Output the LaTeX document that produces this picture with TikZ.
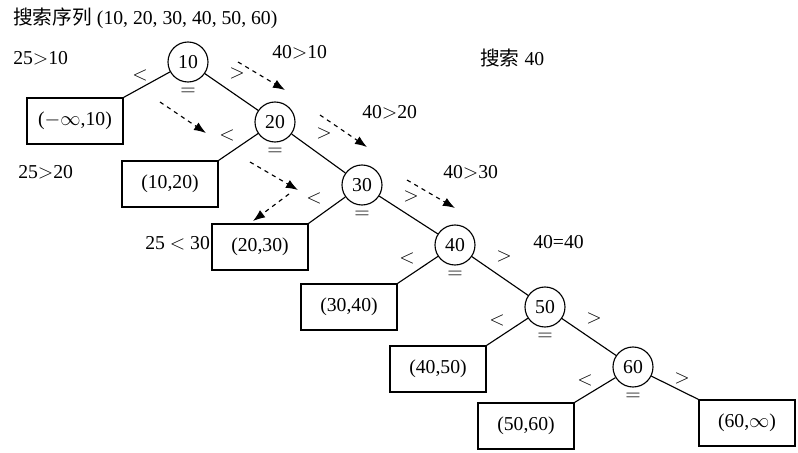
\documentclass[tikz,border=0pt]{standalone}
\usepackage{fontspec}
\setmainfont{Liberation Serif}
\newfontfamily\cjk{Noto Sans CJK SC}
\usetikzlibrary{arrows.meta,positioning}

\begin{document}
\begin{tikzpicture}[x=0.025cm, y=-0.025cm, font=\fontsize{14}{16}\selectfont,
    key/.style={circle, draw, thick, inner sep=0pt, minimum size=1cm},
    gap/.style={rectangle, draw, thick, minimum width=2.4cm, minimum height=1.15cm},
    edge/.style={thick},
    probe/.style={-{Latex[length=3mm]}, thick, dashed},
    note/.style={anchor=west, inner sep=0pt}]
    \useasboundingbox (0,0) rectangle (798,453);

    % search keys
    \node [key] (k10) at (188,62) {10};
    \node [key] (k20) at (275,122) {20};
    \node [key] (k30) at (362,185) {30};
    \node [key] (k40) at (455,245) {40};
    \node [key] (k50) at (545,307) {50};
    \node [key] (k60) at (633,367) {60};

    % intervals
    \node [gap] (g0) at (75,121) {($-\infty$,10)};
    \node [gap] (g1) at (170,184) {(10,20)};
    \node [gap] (g2) at (260,247) {(20,30)};
    \node [gap] (g3) at (349,307) {(30,40)};
    \node [gap] (g4) at (438,369) {(40,50)};
    \node [gap] (g5) at (526,426) {(50,60)};
    \node [gap] (g6) at (747,423) {(60,$\infty$)};

    % edges
    \foreach \a/\b/\c in {k10/k20/g0, k20/k30/g1, k30/k40/g2, k40/k50/g3, k50/k60/g4} {
        \draw [edge] (\a) -- (\b);
        \draw [edge] (\a) -- (\c.north east);
        \node at ([shift={(-48,13)}]\a.center) {$<$};
        \node at ([shift={(49,11)}]\a.center) {$>$};
        \node at ([shift={(0,30)}]\a.center) {$=$};
    }
    \draw [edge] (k60) -- (g5.north east);
    \draw [edge] (k60) -- (g6.north west);
    \node at ([shift={(-48,13)}]k60.center) {$<$};
    \node at ([shift={(49,11)}]k60.center) {$>$};
    \node at ([shift={(0,30)}]k60.center) {$=$};

    % search paths
    \coordinate (a1) at (160,102); \coordinate (a2) at (206,133);
    \coordinate (b1) at (250,162); \coordinate (b2) at (298,190);
    \coordinate (c1) at (289,194); \coordinate (c2) at (253,221);
    \coordinate (d1) at (238,62);  \coordinate (d2) at (285,90);
    \coordinate (e1) at (320,115); \coordinate (e2) at (367,147);
    \coordinate (f1) at (407,180); \coordinate (f2) at (455,208);
    \foreach \s/\t in {a1/a2, b1/b2, c1/c2, d1/d2, e1/e2, f1/f2}
        \draw [probe] (\s) -- (\t);

    % notes
    \node [note] (title) at (13,18) {{\cjk 搜索序列} (10,\ 20,\ 30,\ 40,\ 50,\ 60)};
    \node [note] (n1) at (13,58) {25$>$10};
    \node [note] (n2) at (18,172) {25$>$20};
    \node [note] (n3) at (145,243) {25 $<$ 30};
    \node [note] (m1) at (272,52) {40$>$10};
    \node [note] (m2) at (362,112) {40$>$20};
    \node [note] (m3) at (443,172) {40$>$30};
    \node [note] (m4) at (533,242) {40=40};
    \node [note] (goal) at (480,58) {{\cjk 搜索} 40};
\end{tikzpicture}
\end{document}
